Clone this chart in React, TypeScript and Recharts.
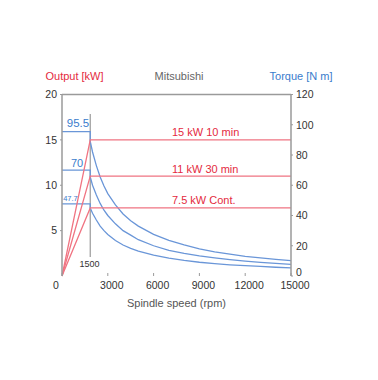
import { LineChart, Line, XAxis, YAxis, ReferenceLine } from 'recharts';

// spindle speed (rpm) and torque (N m)
const torqueSpeed = [0, 1850, 1850, 2000, 2250, 2500, 2750, 3000, 3500, 4000, 4500, 5000, 6000, 7000, 8000, 9000, 10000, 11000, 12000, 13000, 14000, 15000];
const torque15 = [95.5, 95.5, 89, 82, 73, 65.5, 59.5, 54.5, 47, 41, 36.5, 33, 27.5, 23.5, 20.5, 18, 16, 14.5, 13, 12, 11, 10.2];
const torque11 = [70, 70, 65.5, 60, 53.5, 48, 43.5, 40, 34.5, 30, 27, 24, 20, 17, 15, 13.3, 12, 10.8, 9.8, 9, 8.3, 7.7];
const torque7 = [47.7, 47.7, 45, 41.5, 37, 33, 30, 27.5, 23.5, 20.5, 18.3, 16.5, 13.8, 11.8, 10.3, 9.1, 8.2, 7.4, 6.8, 6.3, 5.8, 5.4];

// output (kW)
const powerSpeed = [0, 1850, 15000];
const power15 = [0, 15, 15];
const power11 = [0, 11, 11];
const power7 = [0, 7.5, 7.5];

const speedTicks = [0, 3000, 6000, 9000, 12000, 15000];
const outputTicks = [5, 10, 15, 20];
const torqueTicks = [0, 20, 40, 60, 80, 100, 120];

const RED = '#e42a3e';
const RED_LINE = '#f07482';
const BLUE = '#3a7ccc';
const BLUE_LINE = '#6a96d8';
const GRAY = '#9a9a9a';
const FONT = '"Liberation Sans", Arial, sans-serif';

const toRows = (xs: number[], ys: number[]) => xs.map((rpm, i) => ({ rpm, v: ys[i] }));

const XTick = ({ x, y, payload }: any) => {
  const axisY = y - 8;
  const tx = payload.value === 0 ? x - 6 : x + 4;
  return (
    <g>
      <line x1={x} x2={x} y1={axisY - 3} y2={axisY} stroke={GRAY} strokeWidth={1} />
      <text x={tx} y={axisY + 13} textAnchor="middle" fontSize={10.5} fill="#333" fontFamily={FONT}>
        {payload.value}
      </text>
    </g>
  );
};

const LeftTick = ({ x, y, payload }: any) => (
  <text x={x} y={y} dy="0.36em" textAnchor="end" fontSize={10.5} fill="#333" fontFamily={FONT}>
    {payload.value}
  </text>
);

const RightTick = ({ x, y, payload }: any) => (
  <text x={x} y={payload.value === 0 ? y - 4 : y} dy="0.36em" textAnchor="start" fontSize={10.5} fill="#333" fontFamily={FONT}>
    {payload.value}
  </text>
);

const Txt = ({ x, y, size, color, children, left }: any) => (
  <div
    style={{
      position: 'absolute',
      left: x,
      top: y,
      transform: left ? 'translate(0,-50%)' : 'translate(-50%,-50%)',
      fontSize: size,
      lineHeight: 1,
      color,
      whiteSpace: 'nowrap',
      fontFamily: FONT,
    }}
  >
    {children}
  </div>
);

export default function App() {
  return (
    <div style={{ position: 'absolute', left: 0, top: 0, width: 378, height: 380, background: '#fff' }}>
      <LineChart width={378} height={380} margin={{ top: 94.5, right: 47, bottom: 74, left: 22 }}>
        <XAxis
          xAxisId="x"
          dataKey="rpm"
          type="number"
          domain={[0, 15000]}
          ticks={speedTicks}
          axisLine={false}
          tickLine={false}
          tick={<XTick />}
          height={30}
          allowDataOverflow
        />
        <YAxis
          yAxisId="left"
          width={40}
          domain={[0, 20]}
          ticks={outputTicks}
          axisLine={{ stroke: GRAY, strokeWidth: 1.5 }}
          tickLine={{ stroke: GRAY }}
          tickSize={2}
          tickMargin={3}
          tick={<LeftTick />}
        />
        <YAxis
          yAxisId="right"
          orientation="right"
          width={40}
          domain={[0, 120]}
          ticks={torqueTicks}
          axisLine={{ stroke: GRAY, strokeWidth: 1.5 }}
          tickLine={{ stroke: GRAY }}
          tickSize={2}
          tickMargin={3}
          tick={<RightTick />}
        />
        <ReferenceLine xAxisId="x" yAxisId="left" y={20} stroke={GRAY} strokeWidth={1.5} />
        <ReferenceLine
          xAxisId="x"
          yAxisId="left"
          segment={[{ x: 1850, y: 2.1 }, { x: 1850, y: 17.85 }]}
          stroke={GRAY}
          strokeWidth={1.2}
        />
        <Line xAxisId="x" yAxisId="right" data={toRows(torqueSpeed, torque15)} dataKey="v" type="linear" stroke={BLUE_LINE} strokeWidth={1.3} dot={false} isAnimationActive={false} />
        <Line xAxisId="x" yAxisId="right" data={toRows(torqueSpeed, torque11)} dataKey="v" type="linear" stroke={BLUE_LINE} strokeWidth={1.3} dot={false} isAnimationActive={false} />
        <Line xAxisId="x" yAxisId="right" data={toRows(torqueSpeed, torque7)} dataKey="v" type="linear" stroke={BLUE_LINE} strokeWidth={1.3} dot={false} isAnimationActive={false} />
        <Line xAxisId="x" yAxisId="left" data={toRows(powerSpeed, power15)} dataKey="v" type="linear" stroke={RED_LINE} strokeWidth={1.3} dot={false} isAnimationActive={false} />
        <Line xAxisId="x" yAxisId="left" data={toRows(powerSpeed, power11)} dataKey="v" type="linear" stroke={RED_LINE} strokeWidth={1.3} dot={false} isAnimationActive={false} />
        <Line xAxisId="x" yAxisId="left" data={toRows(powerSpeed, power7)} dataKey="v" type="linear" stroke={RED_LINE} strokeWidth={1.3} dot={false} isAnimationActive={false} />
      </LineChart>

      <Txt x={74.5} y={76} size={11} color={RED}>Output [kW]</Txt>
      <Txt x={179} y={76} size={11} color="#666">Mitsubishi</Txt>
      <Txt x={301} y={76} size={11} color={BLUE}>Torque [N m]</Txt>

      <Txt x={172} y={132} size={11} color={RED} left>15 kW 10 min</Txt>
      <Txt x={172} y={169} size={11} color={RED} left>11 kW 30 min</Txt>
      <Txt x={172} y={200} size={11} color={RED} left>7.5 kW Cont.</Txt>

      <Txt x={78} y={123.5} size={11.5} color={BLUE}>95.5</Txt>
      <Txt x={77} y={163} size={11} color={BLUE}>70</Txt>
      <Txt x={70.5} y={199} size={7.5} color={BLUE}>47.7</Txt>

      <Txt x={89.5} y={263.5} size={9} color="#333">1500</Txt>
      <Txt x={176.5} y={303} size={11} color="#555">Spindle speed (rpm)</Txt>
    </div>
  );
}
